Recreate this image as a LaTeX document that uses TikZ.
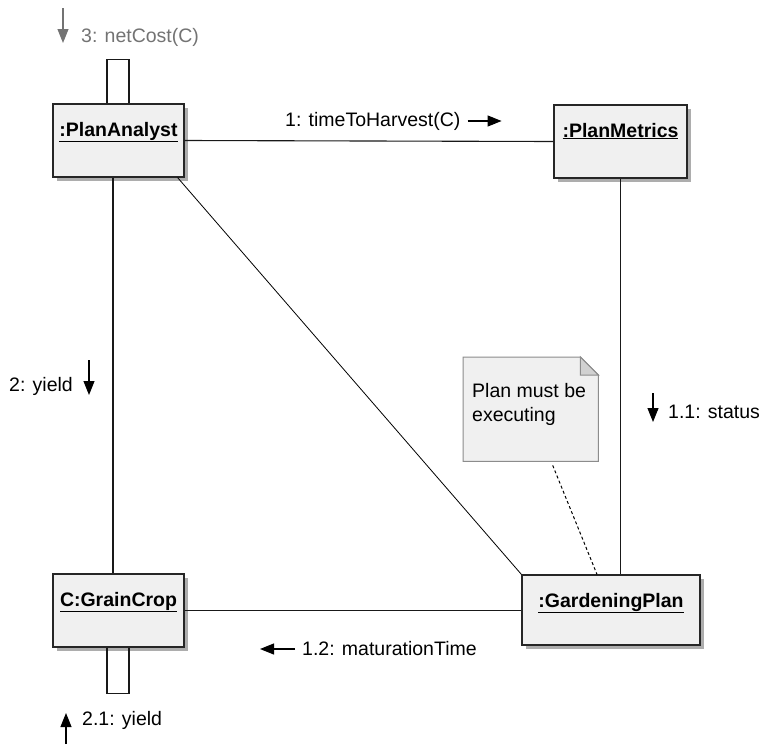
\documentclass[tikz,border=0pt]{standalone}
\usepackage{fontspec}
\setmainfont{Liberation Sans}
\usepackage{tikz}
\usetikzlibrary{arrows.meta}
\usetikzlibrary{shadows}

\begin{document}
\begin{tikzpicture}[x=1pt, y=-1pt,
    objnode/.style = {draw=black!85, fill=black!6, line width=1.2pt, minimum width=131pt, inner sep=0pt,
        text height=32pt, text depth=41pt, font=\fontsize{19.5}{24}\selectfont\bfseries,
        drop shadow={shadow xshift=4pt, shadow yshift=-4pt, fill=black!32, opacity=1}},
    link/.style = {line width=1.1pt, black!90},
    msg/.style = {font=\fontsize{19.5}{24}\selectfont, inner sep=0pt, anchor=west},
    msgarrow/.style = {-{Triangle[length=14pt,width=11pt]}, line width=1.1pt},
    notebox/.style = {anchor=north west, minimum width=135pt, minimum height=104pt, inner sep=0pt},
    notelink/.style = {line width=1pt, dash pattern=on 3pt off 2.5pt}]
    \useasboundingbox (0,0) rectangle (762,744);
    \node[objnode] (analyst) at (118.5,140.5) {\underline{:PlanAnalyst}};
    \node[objnode, minimum width=133pt] (metrics) at (620.5,141.5) {\underline{:PlanMetrics}};
    \node[objnode] (crop) at (118.5,610.5) {\underline{C:GrainCrop}};
    \node[objnode, minimum width=178pt, text depth=38pt] (plan) at (611,610) {\underline{:GardeningPlan}};
    \draw[link] (analyst.east) -- (metrics.west);
    \draw[link] ([xshift=-5.5pt]analyst.south) -- ([xshift=-5.5pt]crop.north);
    \draw[link] (metrics.south) -- (metrics.south |- plan.north);
    \draw[link] (crop.east) -- (crop.east -| plan.west);
    \draw[line width=0.8pt] ([xshift=-7pt]analyst.south east) -- (plan.north west);
    \draw[link] ([xshift=-11.5pt]analyst.north) -- ++(0,-44) -- ++(22,0) -- ++(0,44);
    \draw[link] ([xshift=-11.5pt]crop.south) -- ++(0,46) -- ++(22,0) -- ++(0,-46);
    \node[notebox] (note) at (463,357) {};
    \draw[fill=black!6, draw=black!45, line width=1pt] (note.north west) -- ([xshift=-18pt]note.north east)
        -- ([yshift=-18pt]note.north east) -- (note.south east) -- (note.south west) -- cycle;
    \draw[fill=black!18, draw=black!45, line width=1pt] ([xshift=-18pt]note.north east)
        -- ([xshift=-18pt,yshift=-18pt]note.north east) -- ([yshift=-18pt]note.north east) -- cycle;
    \node[msg, anchor=north west, align=left] (notetext) at ([shift={(9pt,-26pt)}]note.north west) {Plan must be\\executing};
    \draw[notelink] ([shift={(22pt,-4pt)}]note.south) -- ([xshift=-14pt]plan.north);
    \node[msg, text=black!55] (m3) at (81,37) {3: netCost(C)};
    \draw[msgarrow, black!55] ([shift={(-18pt,29pt)}]m3.west) -- ++(0,35);
    \node[msg] (m1) at (285,121) {1: timeToHarvest(C)};
    \draw[msgarrow] ([xshift=7pt]m1.east) -- ++(34,0);
    \node[msg] (m2) at (9,386) {2: yield};
    \draw[msgarrow] ([shift={(80pt,26pt)}]m2.west) -- ++(0,35);
    \node[msg] (m11) at (668,412) {1.1: status};
    \draw[msgarrow] ([shift={(-15pt,19pt)}]m11.west) -- ++(0,29);
    \node[msg] (m12) at (302,649) {1.2: maturationTime};
    \draw[msgarrow] ([xshift=-7pt]m12.west) -- ++(-35,0);
    \node[msg] (m21) at (82,720) {2.1: yield};
    \draw[msgarrow] ([shift={(-16pt,-24pt)}]m21.west) -- ++(0,-31);
\end{tikzpicture}
\end{document}
